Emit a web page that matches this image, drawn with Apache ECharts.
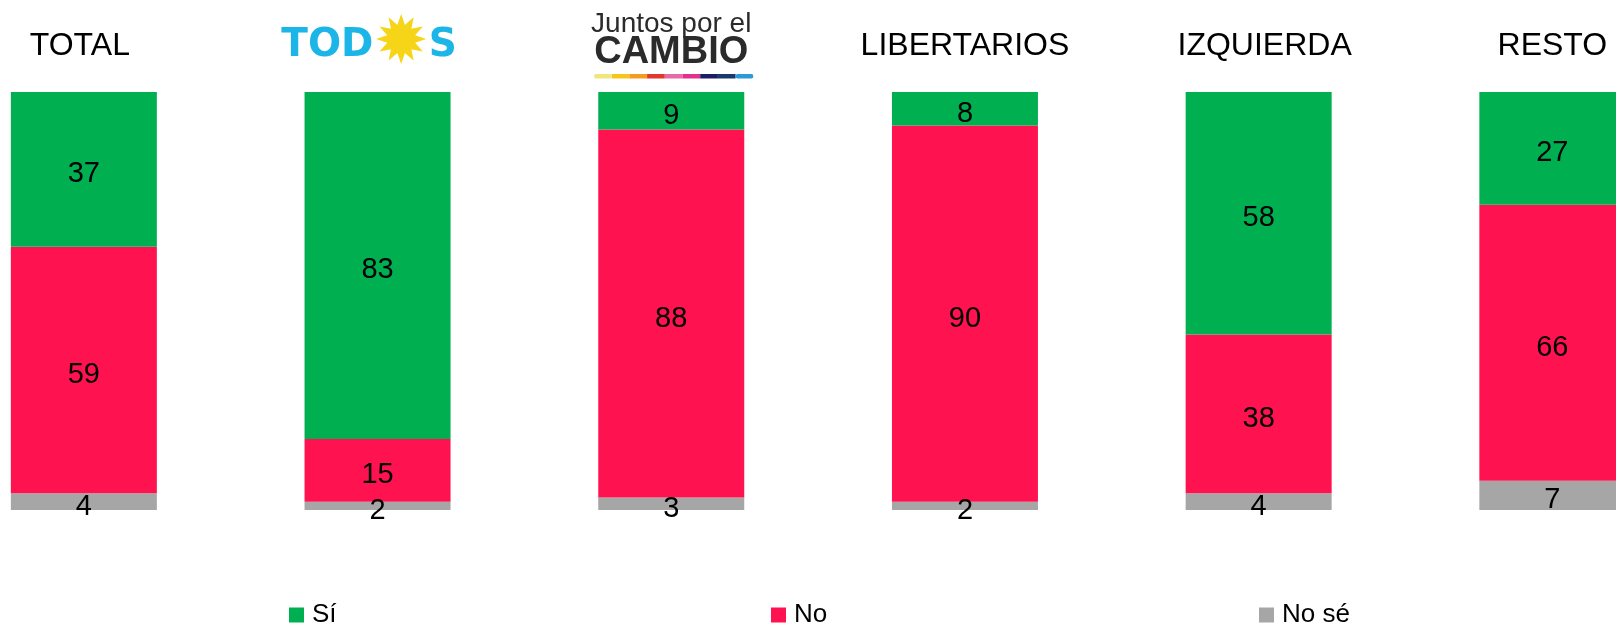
<!DOCTYPE html>
<html>
<head>
<meta charset="utf-8">
<script src="https://cdn.jsdelivr.net/npm/echarts@6/dist/echarts.min.js"></script>
<style>
  html, body { margin: 0; padding: 0; background: #fff; }
  #chart { width: 1616px; height: 626px; }
</style>
</head>
<body>
<div id="chart"></div>
<script>
// categorias (grupos de votantes)
const categories = ['TOTAL', 'TODOS', 'JXC', 'LIBERTARIOS', 'IZQUIERDA', 'RESTO']
// valores en %
const siValues = [37, 83, 9, 8, 58, 27]
const noValues = [59, 15, 88, 90, 38, 66]
const noSeValues = [4, 2, 3, 2, 4, 7]

const seriesNames = ['Sí', 'No', 'No sé']
const colors = ['#00AF50', '#FF1250', '#A6A6A6']
// franja de colores del logo de Juntos por el Cambio
const stripeColors = ['#EFE77E', '#F6C51A', '#F39C20', '#E0382C', '#E66AA6', '#E3318A', '#1C1C6A', '#193B6C', '#2B9BD8']

const font = '"Liberation Sans", Arial, sans-serif'

const chart = echarts.init(document.getElementById('chart'))

const labelStyle = {
    show: true,
    position: 'inside',
    color: '#000',
    fontSize: 29,
    fontFamily: font,
    offset: [0, 5]
}

function legendAt (name, left) {
    return {
        data: [name],
        left: left,
        top: 602,
        padding: 0,
        icon: 'rect',
        itemWidth: 15,
        itemHeight: 15,
        selectedMode: false,
        textStyle: {
            fontSize: 26,
            fontFamily: font,
            color: '#000',
            lineHeight: 26,
            padding: [0, 0, 0, 3]
        }
    }
}

// etiquetas del eje superior (titulos y logos)
function headerLabel (value) {
    if (value === 'TODOS') {
        return '{t|TOD}{s|✹}{u|S}'
    }
    if (value === 'JXC') {
        return '{j|Juntos por el}\n{c|CAMBIO}'
    }
    if (value === 'TOTAL') {
        return '{l|TOTAL}'
    }
    if (value === 'IZQUIERDA') {
        return '{r|IZQUIERDA}'
    }
    return '{h|' + value + '}'
}

const option = {
    animation: false,
    backgroundColor: '#fff',
    color: colors,
    // centros de barra separados 293.7 px, primera en x = 83.85
    grid: {
        left: 83.85,
        right: 63.65,
        top: 92,
        bottom: 116
    },
    legend: [
        legendAt('Sí', 289),
        legendAt('No', 771),
        legendAt('No sé', 1259)
    ],
    xAxis: {
        type: 'category',
        position: 'top',
        boundaryGap: false,
        data: categories,
        axisLine: { show: false },
        axisTick: { show: false },
        splitLine: { show: false },
        axisLabel: {
            margin: 30,
            interval: 0,
            formatter: headerLabel,
            rich: {
                h: { fontSize: 32, fontFamily: font, color: '#000', lineHeight: 32 },
                l: { fontSize: 32, fontFamily: font, color: '#000', lineHeight: 32, padding: [0, 8, 0, 0] },
                r: { fontSize: 32, fontFamily: font, color: '#000', lineHeight: 32, padding: [0, 0, 0, 12] },
                t: { fontSize: 39, fontFamily: '"DejaVu Sans", sans-serif', fontWeight: 'bold', color: '#1BB5E7', lineHeight: 32 },
                u: { fontSize: 39, fontFamily: '"DejaVu Sans", sans-serif', fontWeight: 'bold', color: '#1BB5E7', lineHeight: 32, padding: [0, 17, 0, 0] },
                s: { fontSize: 66, fontFamily: '"DejaVu Sans", sans-serif', color: '#F6D417', lineHeight: 32 },
                j: { fontSize: 28, fontFamily: font, color: '#2B2B2B', lineHeight: 30, padding: [0, 0, 7, 0] },
                c: { fontSize: 38, fontFamily: font, fontWeight: 'bold', color: '#2B2B2B', lineHeight: 19 }
            }
        }
    },
    yAxis: {
        type: 'value',
        min: 0,
        max: 100,
        show: false,
        splitLine: { show: false }
    },
    series: [
        {
            name: seriesNames[2],
            type: 'bar',
            stack: 'total',
            barWidth: 146,
            clip: false,
            data: noSeValues,
            itemStyle: { color: colors[2] },
            label: labelStyle
        },
        {
            name: seriesNames[1],
            type: 'bar',
            stack: 'total',
            barWidth: 146,
            clip: false,
            data: noValues,
            itemStyle: { color: colors[1] },
            label: labelStyle
        },
        {
            name: seriesNames[0],
            type: 'bar',
            stack: 'total',
            barWidth: 146,
            clip: false,
            data: siValues,
            itemStyle: { color: colors[0] },
            label: labelStyle
        }
    ],
    graphic: stripeColors.map((c, i) => {
        return {
            type: 'rect',
            left: 594 + i * 17.7,
            top: 74,
            shape: { width: 17.7, height: 4.5, r: (i === 0 || i === stripeColors.length - 1) ? 2 : 0 },
            style: { fill: c }
        }
    })
}

chart.setOption(option)
</script>
</body>
</html>
